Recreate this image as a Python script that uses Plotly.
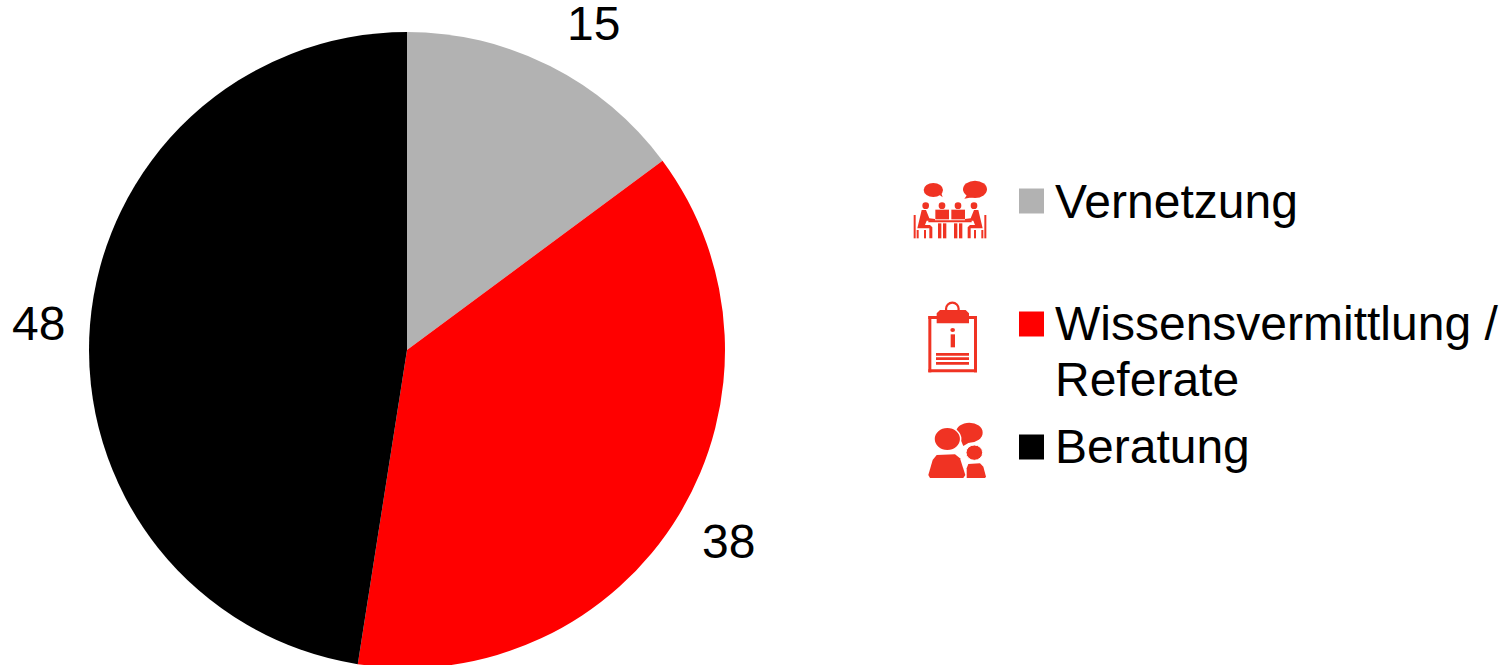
import plotly.graph_objects as go

categories = ["Vernetzung", "Wissensvermittlung / Referate", "Beratung"]
values = [15, 38, 48]
colors = ["#B2B2B2", "#FF0000", "#000000"]
legend_lines = [("Vernetzung", 201), ("Wissensvermittlung /", 323), ("Referate", 379), ("Beratung", 446)]
legend_swatches = [(201, "#B2B2B2"), (324, "#FF0000"), (447, "#000000")]
value_positions = [(593, 24), (728, 541), (38, 323)]

W, H = 1510, 700
ICON = "#F03323"
FONT = "Liberation Sans, Arial, sans-serif"

def px(x): return x / W
def py(y): return 1 - y / H

shapes = []

def poly(points, ox, oy, color=ICON):
    pts = [(ox + a / 3, oy + b / 3) for a, b in points]
    d = "M" + " L".join(f"{px(a):.5f},{py(b):.5f}" for a, b in pts) + " Z"
    shapes.append(dict(type="path", path=d, xref="paper", yref="paper", fillcolor=color,
                       line=dict(width=0), layer="above"))

def ell(cx, cy, rx, ry, ox, oy, color=ICON, lw=0, lc=None, fill=True):
    shapes.append(dict(type="circle", xref="paper", yref="paper",
                       x0=px(ox + (cx - rx) / 3), x1=px(ox + (cx + rx) / 3),
                       y0=py(oy + (cy - ry) / 3), y1=py(oy + (cy + ry) / 3),
                       fillcolor=color if fill else "rgba(0,0,0,0)",
                       line=dict(width=lw, color=lc or color), layer="above"))

def rect(x0, y0, x1, y1, ox, oy, color=ICON):
    poly([(x0, y0), (x1, y0), (x1, y1), (x0, y1)], ox, oy, color)

# meeting icon
o = (900, 170)
ell(100, 60, 29, 21, *o)
poly([(112, 70), (128, 82), (122, 64)], *o)
ell(225, 58, 36, 26, *o)
poly([(205, 70), (193, 86), (225, 80)], *o)
for hx in (77, 126, 174, 222):
    ell(hx, 107, 10, 10, *o)
for tx in (106, 154):
    rect(tx, 119, tx + 41, 148, *o)
    rect(tx + 8, 160, tx + 18, 205, *o)
    rect(tx + 23, 160, tx + 33, 205, *o)
rect(85, 151, 215, 157, *o)
poly([(65, 120), (78, 120), (88, 145), (105, 147), (105, 152), (80, 152), (75, 165), (90, 165), (97, 172), (97, 205), (88, 205), (88, 175), (52, 175)], *o)
poly([(235, 120), (222, 120), (212, 145), (195, 147), (195, 152), (220, 152), (225, 165), (210, 165), (203, 172), (203, 205), (212, 205), (212, 175), (248, 175)], *o)
rect(41, 135, 47, 205, *o)
rect(253, 135, 259, 205, *o)
rect(50, 180, 56, 205, *o)
rect(72, 180, 78, 205, *o)
rect(222, 180, 228, 205, *o)
rect(244, 180, 250, 205, *o)

# clipboard icon
o = (910, 295)
ell(127, 42, 19, 19, *o, lw=2.2, fill=False)
rect(55, 63, 201, 72, *o)
rect(55, 223, 201, 232, *o)
rect(55, 63, 64, 232, *o)
rect(192, 63, 201, 232, *o)
poly([(90, 45), (167, 45), (177, 55), (177, 85), (80, 85), (80, 55)], *o)
ell(128, 105, 7, 6, *o)
rect(122, 118, 135, 157, *o)
for ly in (174, 187, 201):
    rect(78, ly, 177, ly + 8, *o)

# people icon
ell(178, 413, 40, 30, *o)
poly([(150, 430), (160, 453), (185, 438)], *o)
ell(112, 432, 40, 35, *o, lw=1.5, lc="#FFFFFF")
poly([(55, 540), (68, 495), (80, 480), (135, 478), (150, 490), (166, 540), (160, 549), (60, 549)], *o)
ell(193, 473, 25, 23, *o, lw=1, lc="#FFFFFF")
poly([(170, 520), (175, 507), (210, 505), (220, 515), (228, 545), (225, 549), (170, 549)], *o)

# legend swatches
for cy, c in legend_swatches:
    shapes.append(dict(type="rect", xref="paper", yref="paper", x0=px(1019), x1=px(1044),
                       y0=py(cy - 12.5), y1=py(cy + 12.5), fillcolor=c, line=dict(width=0), layer="above"))

def label(text, x, cy, anchor):
    return dict(text=text, x=px(x), y=py(cy), xref="paper", yref="paper", xanchor=anchor,
                yanchor="middle", showarrow=False, font=dict(size=48, color="#000000", family=FONT))

annotations = [label(t, 1053, cy, "left") for t, cy in legend_lines]
annotations += [label(str(v), x, cy, "center") for v, (x, cy) in zip(values, value_positions)]

fig = go.Figure(go.Pie(
    labels=categories, values=values, sort=False, direction="clockwise", rotation=0,
    marker=dict(colors=colors, line=dict(width=0)),
    textinfo="none", hole=0, showlegend=False,
    domain=dict(x=[px(89), px(725)], y=[py(668), py(32)]),
))
fig.update_layout(width=W, height=H, margin=dict(l=0, r=0, t=0, b=0), paper_bgcolor="#FFFFFF",
                  showlegend=False, shapes=shapes, annotations=annotations,
                  font=dict(family=FONT))
fig.write_html("out.html", config=dict(displayModeBar=False),
               post_script="document.body.style.margin='0';document.body.style.overflow='hidden';document.documentElement.style.overflow='hidden';")
